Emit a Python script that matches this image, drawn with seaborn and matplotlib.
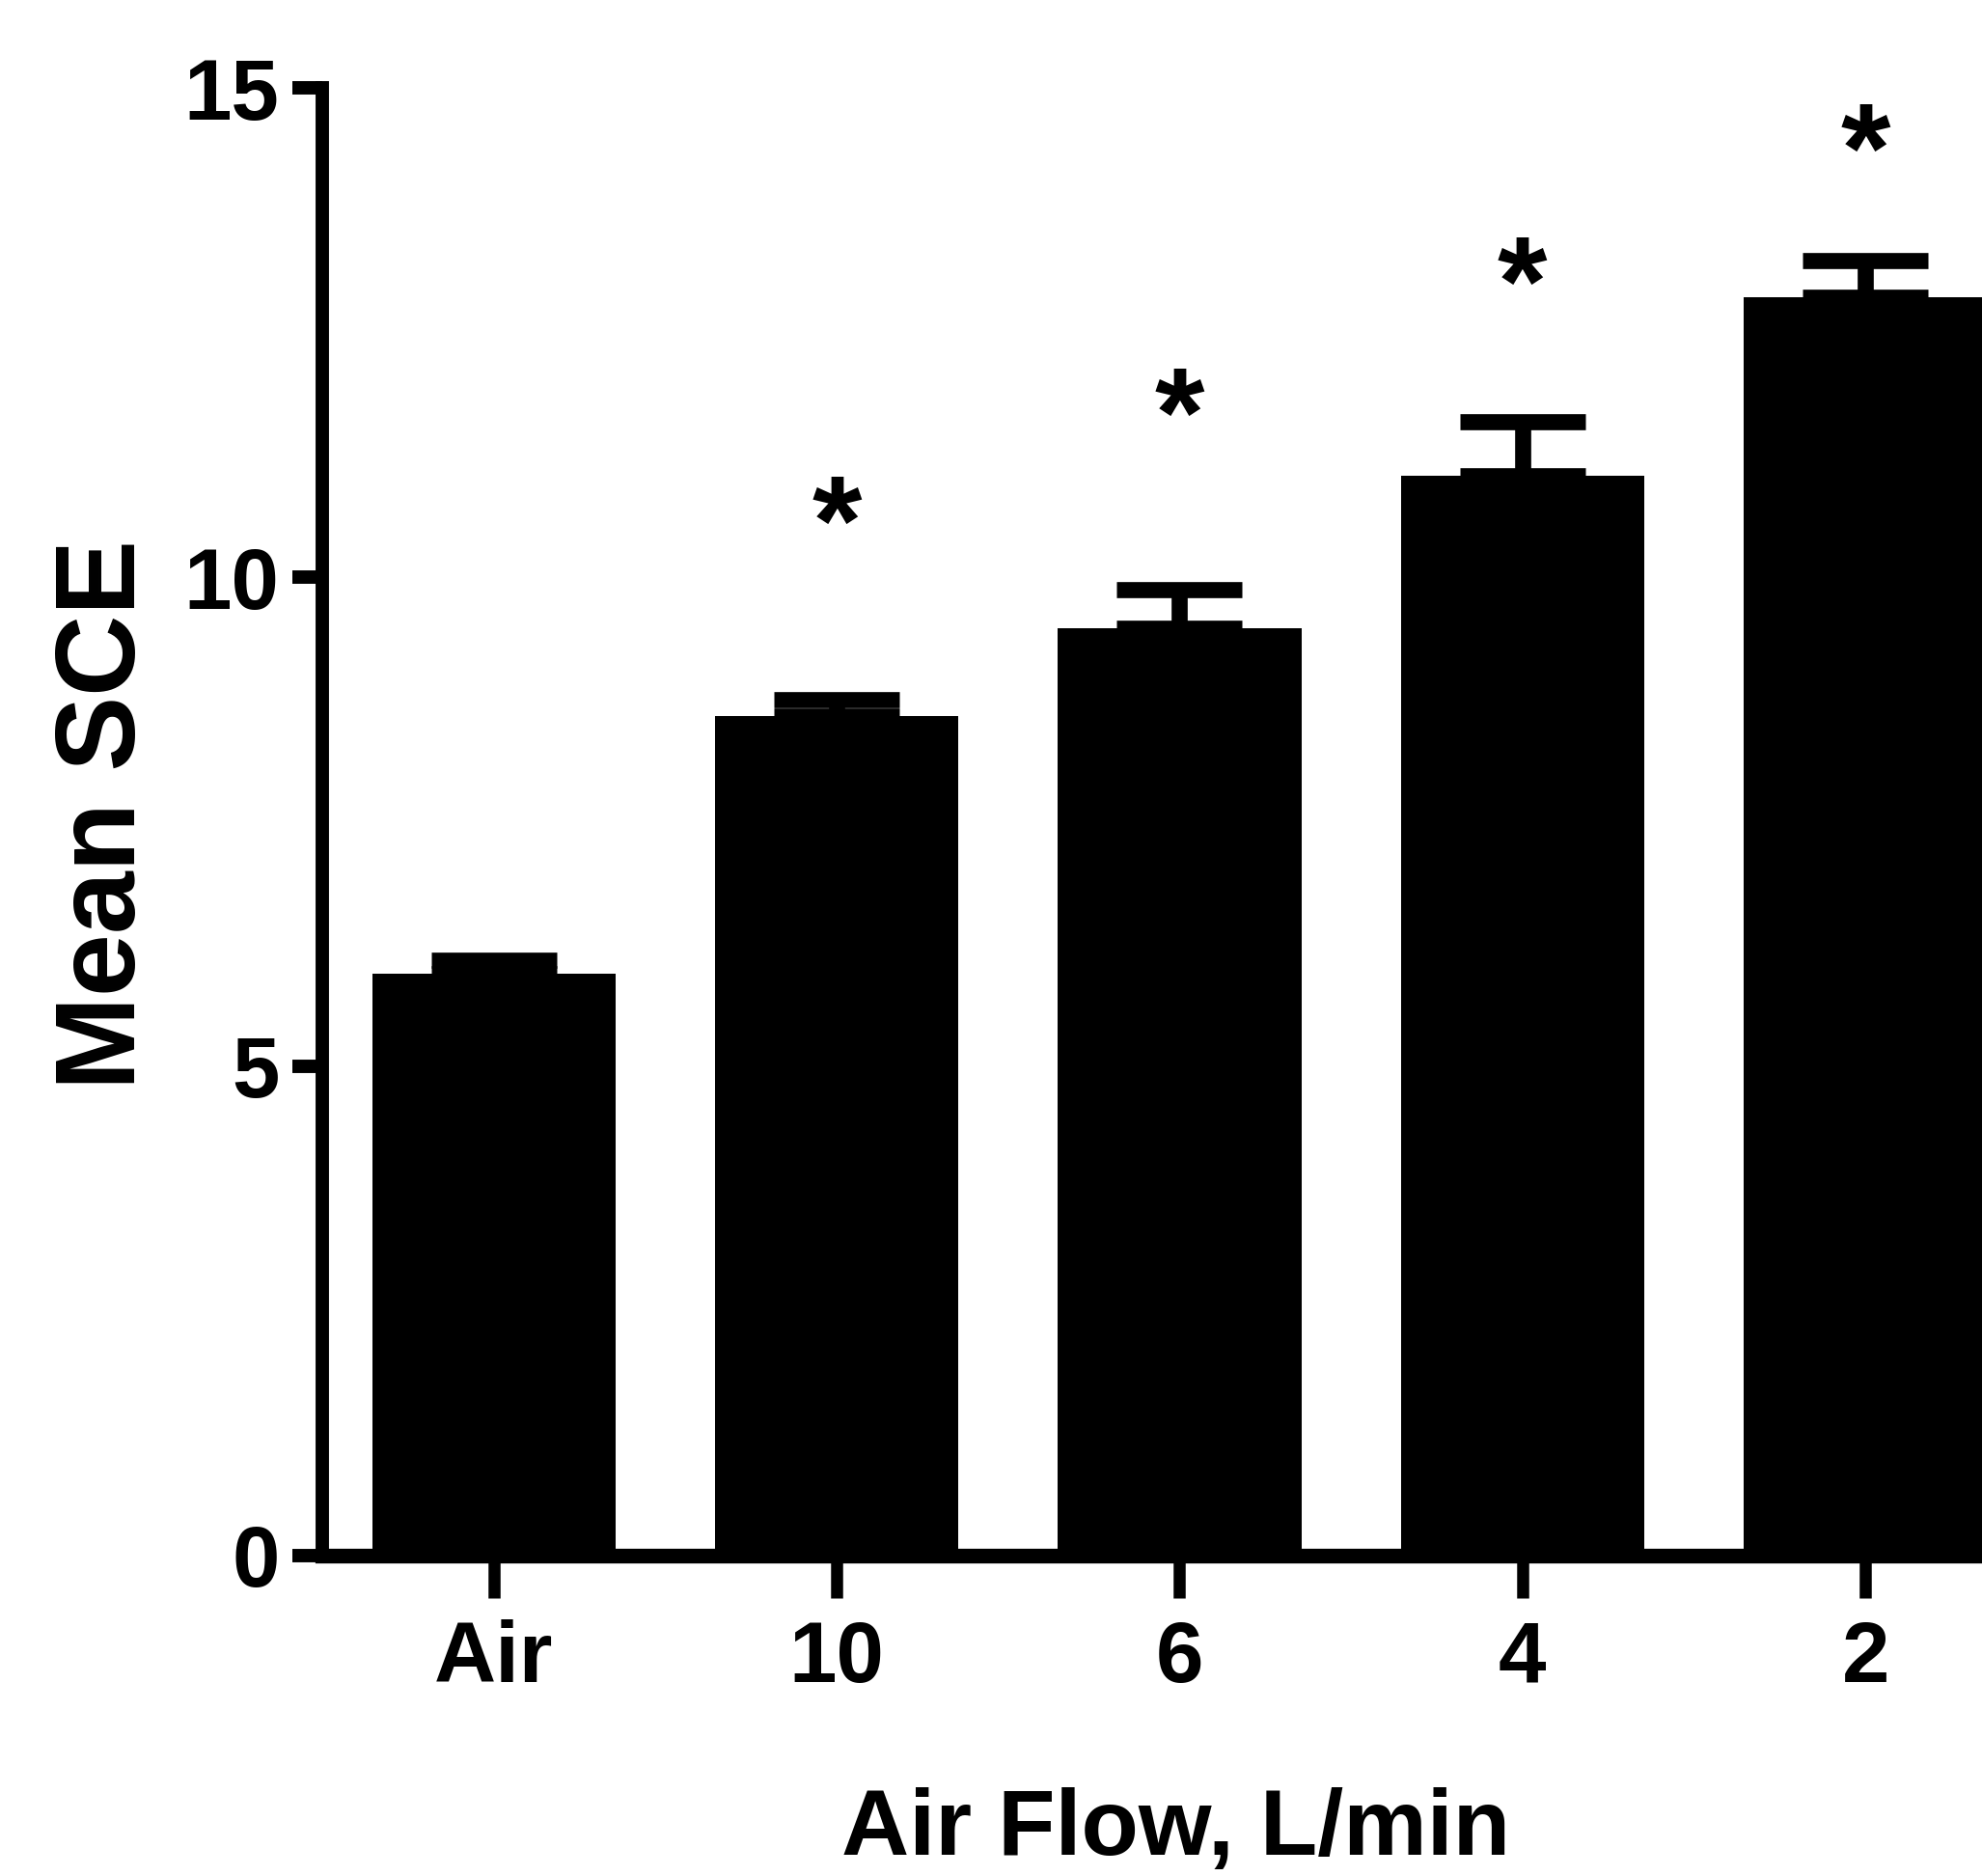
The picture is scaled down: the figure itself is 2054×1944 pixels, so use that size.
import matplotlib.pyplot as plt
import seaborn as sns
import numpy as np

# values
groups = ['Air', '10', '6', '4', '2']
mean_sce = [5.95, 8.58, 9.48, 11.04, 12.86]
sem_sce = [0.13, 0.17, 0.39, 0.55, 0.38]
star_y = [None, 10.77, 11.88, 13.22, 14.58]

sns.set_style('ticks')
plt.rcParams['font.family'] = ['Liberation Sans', 'DejaVu Sans']
for key in ['text.color', 'axes.labelcolor', 'xtick.color', 'ytick.color', 'axes.edgecolor']:
    plt.rcParams[key] = 'black'

fig = plt.figure(figsize=(20.54, 19.44), dpi=100)
ax = fig.add_axes([0.1626, 0.171, 0.8374, 0.782])

sns.barplot(x=groups, y=mean_sce, color='black', saturation=1, width=0.71,
            edgecolor='black', linewidth=0, ax=ax)
ax.errorbar(x=np.arange(len(groups)), y=mean_sce,
            yerr=[np.zeros(len(groups)), sem_sce],
            fmt='none', ecolor='black', elinewidth=12, capsize=47, capthick=12)

# significance stars (text anchor nudged so the glyph centre sits on the value)
for i, y in enumerate(star_y):
    if y is not None:
        ax.annotate('*', xy=(i, y), xytext=(0, -22), textcoords='offset points',
                    ha='center', va='center', fontsize=95, fontweight='bold')

ax.set_xlim(-0.5, 4.34)
ax.set_ylim(0, 15)
ax.set_yticks([0, 5, 10, 15])

sns.despine(ax=ax)
ax.spines['left'].set_linewidth(10)
ax.spines['bottom'].set_linewidth(11)
ax.tick_params(axis='y', length=22, width=10, pad=10, labelsize=64)
ax.tick_params(axis='x', length=32, width=9, pad=16, labelsize=64)
for lab in ax.get_xticklabels() + ax.get_yticklabels():
    lab.set_fontweight('bold')

ax.set_xlabel('Air Flow, L/min', fontsize=70, fontweight='bold', va='top')
ax.xaxis.set_label_coords(0.514, -0.158)
ax.set_ylabel('Mean SCE', fontsize=84, fontweight='bold')
ax.yaxis.set_label_coords(-0.099, 0.505)

plt.savefig('out.png', dpi=100)
